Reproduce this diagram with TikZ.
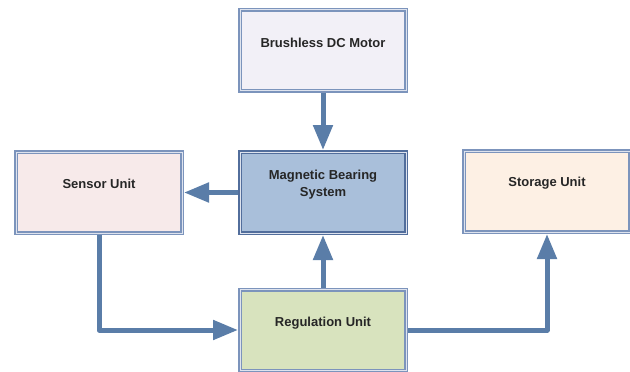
\documentclass[tikz,border=0pt]{standalone}
\usepackage{fontspec}
\setmainfont{Liberation Sans}
\usetikzlibrary{arrows.meta, positioning, calc}

\definecolor{linkblue}{RGB}{90,125,168}
\definecolor{rimblue}{RGB}{124,148,188}
\definecolor{rimdark}{RGB}{82,110,156}
\definecolor{rimgap}{RGB}{222,227,238}
\definecolor{motorfill}{RGB}{242,240,247}
\definecolor{sensorfill}{RGB}{247,234,234}
\definecolor{bearingfill}{RGB}{169,191,218}
\definecolor{storagefill}{RGB}{253,240,228}
\definecolor{regfill}{RGB}{216,227,190}

\begin{document}
\begin{tikzpicture}[
    x=1pt, y=-1pt,
    box/.style={rectangle, draw=rimblue, line width=1.5pt, double=rimgap,
                double distance=1pt, minimum width=166pt, minimum height=81pt,
                inner sep=0pt, outer sep=2pt},
    txt/.style={font=\fontsize{13}{16.5}\selectfont\bfseries, text=black!85,
                align=center},
    arrow/.style={-{Triangle[length=25pt, width=19pt]}, line width=5pt,
                  draw=linkblue, line join=round},
]
\useasboundingbox (0,0) rectangle (630,372);

% Motor on top
\node[box, fill=motorfill] (motor) at (323,50) {};
\node[txt] (motor-t) at ($(motor.center)+(0,-7)$) {Brushless DC Motor};

% Middle row
\node[box, fill=bearingfill, draw=rimdark] (bearing) at (323,192.5) {};
\node[txt] (bearing-t) at ($(bearing.center)+(0,-8)$) {Magnetic Bearing\\System};

\node[box, fill=sensorfill] (sensor) at (99,192.5) {};
\node[txt] (sensor-t) at ($(sensor.center)+(0,-9)$) {Sensor Unit};

\node[box, fill=storagefill] (storage) at (547,191.5) {};
\node[txt] (storage-t) at ($(storage.center)+(0,-8)$) {Storage Unit};

% Regulation at the bottom
\node[box, fill=regfill] (reg) at (323,330) {};
\node[txt] (reg-t) at ($(reg.center)+(0,-7)$) {Regulation Unit};

% Arrows
\draw[arrow] (motor) -- (bearing);
\draw[arrow] (bearing) -- (sensor);
\draw[arrow] (sensor.south) |- (reg.west);
\draw[arrow] (reg) -- (bearing);
\draw[arrow] (reg.east) -| (storage.south);

\end{tikzpicture}
\end{document}
